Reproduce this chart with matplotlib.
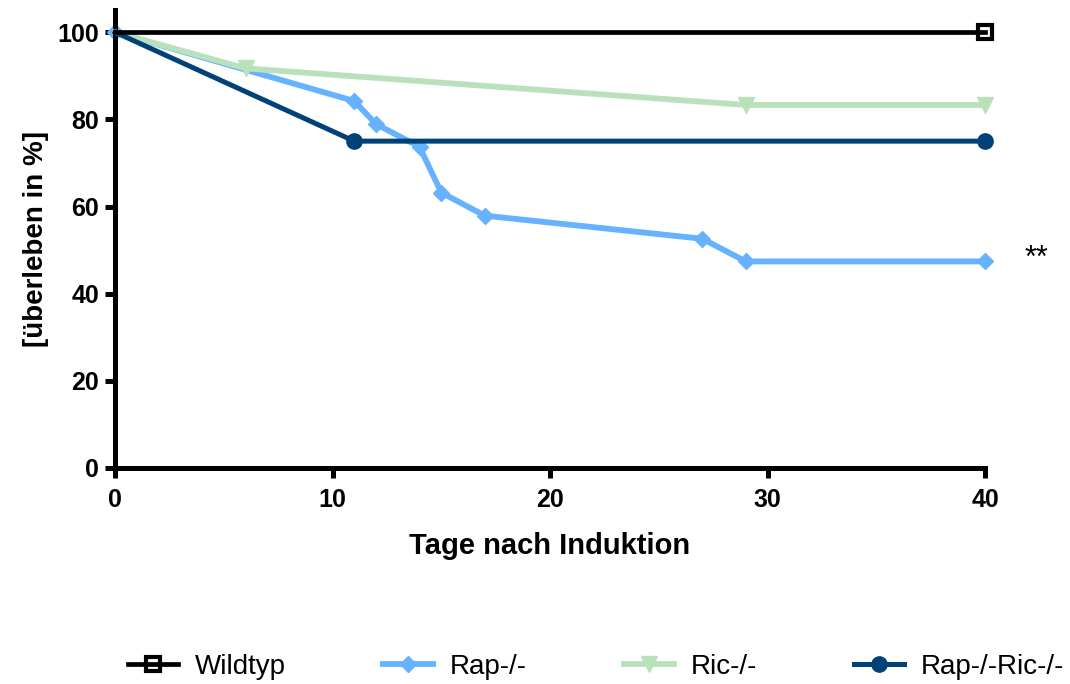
import matplotlib.pyplot as plt
from matplotlib.lines import Line2D

plt.rcParams['font.family'] = ['Liberation Sans', 'DejaVu Sans']

# survival curves (days after induction, % surviving)
wt_days = [0, 40]
wt_surv = [100, 100]

rap_days = [0, 11, 12, 14, 15, 17, 27, 29, 40]
rap_surv = [100, 84.2, 78.9, 73.7, 63.2, 57.9, 52.6, 47.4, 47.4]

ric_days = [0, 6, 29, 40]
ric_surv = [100, 91.7, 83.3, 83.3]

rapric_days = [0, 11, 40]
rapric_surv = [100, 75, 75]

labels = ["Wildtyp", "Rap-/-", "Ric-/-", "Rap-/-Ric-/-"]
colors = ["#000000", "#66B2FF", "#B9E2BC", "#004278"]

fig = plt.figure(figsize=(10.7, 6.84), dpi=100)
ax = fig.add_axes([0.1075, 0.3158, 0.8131, 0.669])

ax.plot(rap_days, rap_surv, color=colors[1], lw=4.2, marker="D", ms=8.5,
        zorder=2, clip_on=False)
ax.plot(ric_days, ric_surv, color=colors[2], lw=4.2, marker="v", ms=11,
        markevery=[1, 2, 3], zorder=3, clip_on=False)
ax.plot(rapric_days, rapric_surv, color=colors[3], lw=3.6, marker="o", ms=11,
        markevery=[1, 2], zorder=4, clip_on=False)
ax.plot(wt_days, wt_surv, color=colors[0], lw=3.4, marker="s", ms=10,
        mfc="none", mew=3, markevery=[1], zorder=5, clip_on=False)

# significance mark next to the Rap-/- curve
ax.text(41.8, 48, "**", fontsize=22, ha="left", va="center")

ax.set_xlim(0, 40)
ax.set_ylim(0, 105)
ax.set_xticks([0, 10, 20, 30, 40])
ax.set_yticks([0, 20, 40, 60, 80, 100])

for side in ["top", "right"]:
    ax.spines[side].set_visible(False)
for side in ["left", "bottom"]:
    ax.spines[side].set_linewidth(3.6)
ax.tick_params(width=3.6, length=7.5, labelsize=18, direction="out")
ax.tick_params(axis="x", pad=7)
ax.tick_params(axis="y", pad=4)
for lab in ax.get_xticklabels() + ax.get_yticklabels():
    lab.set_fontweight("bold")

ax.set_xlabel("Tage nach Induktion", fontsize=21, fontweight="bold", labelpad=14)
ax.set_ylabel("[überleben in %]", fontsize=20, fontweight="bold", labelpad=6)

handles = [
    Line2D([], [], color=colors[0], lw=3.4, marker="s", ms=10, mfc="none", mew=3),
    Line2D([], [], color=colors[1], lw=4.2, marker="D", ms=8.5),
    Line2D([], [], color=colors[2], lw=4.2, marker="v", ms=11),
    Line2D([], [], color=colors[3], lw=3.6, marker="o", ms=11),
]
fig.legend(handles, labels, loc="lower center", ncol=4, frameon=False,
           bbox_to_anchor=(0.557, -0.03), columnspacing=3.5,
           handlelength=1.8, handletextpad=0.6, prop={"size": 20})

fig.savefig("out.png", dpi=100)
